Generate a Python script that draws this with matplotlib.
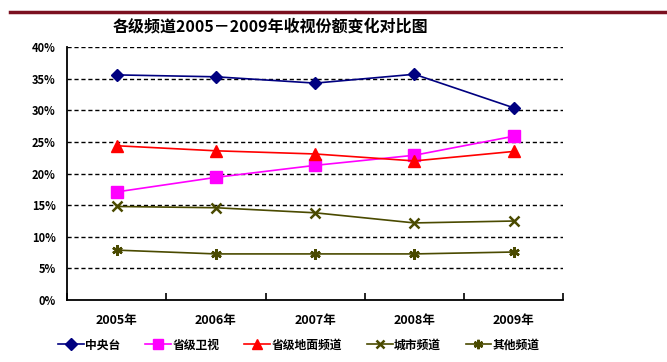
#!/usr/bin/env python3
"""Audience share of each channel tier, 2005-2009."""
import matplotlib
matplotlib.use("Agg")
import matplotlib.pyplot as plt
from matplotlib.lines import Line2D
from matplotlib.ticker import FixedLocator, PercentFormatter

plt.rcParams['font.family'] = ['Noto Sans CJK SC', 'DejaVu Sans']

years = ["2005年", "2006年", "2007年", "2008年", "2009年"]
cctv = [35.6, 35.3, 34.3, 35.7, 30.4]
prov_sat = [17.1, 19.4, 21.3, 22.9, 25.9]
prov_ground = [24.4, 23.6, 23.1, 22.0, 23.5]
city = [14.8, 14.6, 13.8, 12.2, 12.5]
other = [7.9, 7.3, 7.3, 7.3, 7.6]

series_names = ["中央台", "省级卫视", "省级地面频道", "城市频道", "其他频道"]


def plot_share_chart():
    fig = plt.figure(figsize=(6.67, 3.62), dpi=100)
    ax = fig.add_axes([0.1005, 0.171, 0.744, 0.699])

    x = range(len(years))
    styles = [
        (cctv, dict(color="#000080", marker="D", markersize=6.5)),
        (prov_sat, dict(color="#ff00ff", marker="s", markersize=8)),
        (prov_ground, dict(color="#ff0000", marker="^", markersize=8.5)),
        (city, dict(color="#4a4a00", marker="x", markersize=6.5,
                    markeredgewidth=1.8)),
        (other, dict(color="#4a4a00", marker=(6, 2, 0), markersize=7.5,
                     markeredgewidth=1.8)),
    ]
    for (vals, st), name in zip(styles, series_names):
        ax.plot(x, vals, linewidth=1.2, label=name, **st)

    ax.set_xlim(-0.5, len(years) - 0.5)
    ax.set_ylim(0, 40)
    ax.yaxis.set_major_locator(FixedLocator(range(0, 41, 5)))
    ax.yaxis.set_major_formatter(PercentFormatter(decimals=0))
    for v in range(5, 41, 5):
        ax.axhline(v, color="black", linestyle=(0, (3, 2)), linewidth=1.0,
                   zorder=0)

    # category boundaries carry the ticks, labels sit between them
    ax.set_xticks([i - 0.5 for i in range(len(years) + 1)])
    ax.set_xticklabels([])
    ax.set_xticks(list(x), minor=True)
    ax.set_xticklabels(years, minor=True, fontsize=9, fontweight="bold")
    ax.tick_params(axis="x", which="major", direction="in", length=5,
                   width=1.2)
    ax.tick_params(axis="x", which="minor", length=0, pad=10)
    ax.tick_params(axis="y", length=0, pad=8, labelsize=8)
    for lab in ax.get_yticklabels():
        lab.set_fontweight("bold")

    for side in ("top", "right"):
        ax.spines[side].set_visible(False)
    for side in ("left", "bottom"):
        ax.spines[side].set_linewidth(1.3)

    fig.text(0.406, 0.928, "各级频道2005－2009年收视份额变化对比图",
             ha="center", va="center", fontsize=11.5, fontweight="bold")

    # dark red rule along the top
    fig.add_artist(Line2D([0.015, 1.0], [0.967, 0.967],
                          color="#7b1020", linewidth=2.5))

    leg = fig.legend(loc="center", bbox_to_anchor=(0.448, 0.047), ncol=5,
                     frameon=False, handlelength=2.2,
                     handletextpad=0.1, columnspacing=2.1,
                     prop=dict(weight="bold", size=8.5))
    for h in leg.legend_handles:
        h.set_markersize(h.get_markersize() * 0.9)

    fig.savefig("out.png", dpi=100, facecolor="white")


if __name__ == '__main__':
    plot_share_chart()
